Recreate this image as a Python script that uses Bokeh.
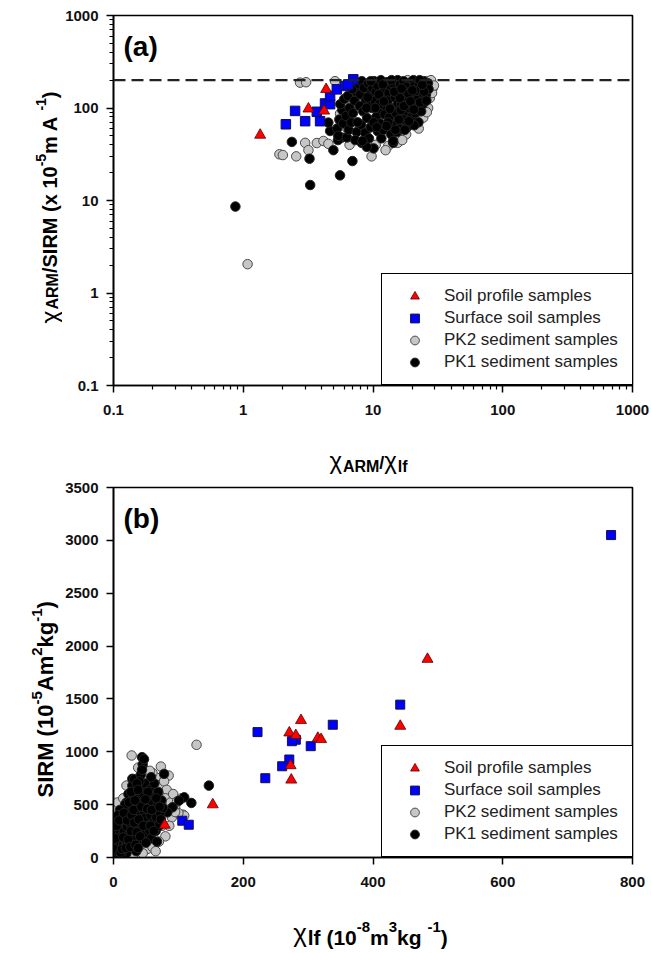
from math import pi

from bokeh.embed import file_html
from bokeh.layouts import column, row
from bokeh.models import (CustomJSTickFormatter, FixedTicker, Label, Legend,
                          LegendItem, Range1d, Span)
from bokeh.plotting import figure
from bokeh.resources import INLINE

FONT = "Liberation Sans"

# ---------------- panel (a): chiARM/chilf  vs  chiARM/SIRM (log-log) ----------------
soil_a = [(1.35, 51), (3.18, 98), (4.35, 159), (4.2, 93)]
surface_a = [(2.13, 66.7), (2.51, 93), (3.0, 72), (3.69, 91), (3.91, 72), (4.27, 112),
             (4.67, 110), (4.67, 135), (5.26, 159), (6.09, 173), (7.05, 204), (6.45, 180)]
pk2_a = [(1.08, 2.05), (2.74, 188), (3.05, 190), (1.90, 31.6), (2.02, 31), (2.56, 30),
         (3.0, 42), (3.18, 35), (3.69, 41.8), (4.15, 44), (4.53, 41), (5.57, 86.7),
         (9.75, 30), (13.1, 38.9), (24.4, 78.6), (26.6, 100), (27.4, 128), (29, 166),
         (25.9, 195), (5.1, 195), (8.18, 119), (27.8, 185), (28.5, 145), (26.0, 90),
         (22.5, 60), (18.0, 52), (12.5, 35), (15.5, 42), (6.2, 62), (7.0, 110),
         (8.6, 150), (11.0, 190), (18.5, 200), (28.0, 200), (19.5, 140), (16.8, 45),
         (10.5, 40), (6.6, 40), (29.5, 175), (16, 120), (21, 100), (12, 75), (9, 58)]
pk1_a = [(0.87, 8.6), (2.37, 43), (3.24, 28.3), (3.28, 14.7), (4.95, 35), (5.57, 18.7),
         (6.94, 26.7), (10.1, 36.6), (14.3, 42), (4.67, 56.4), (4.53, 69.5), (5.74, 47.9),
         (8.18, 42), (8.95, 38), (5.37, 45),
         (5.3, 60), (5.5, 75), (5.8, 95), (5.6, 110), (6.0, 125), (5.4, 50), (5.9, 68),
         (6.3, 48), (6.5, 58), (6.2, 82), (6.8, 70), (6.6, 100), (7.0, 88), (6.4, 135),
         (7.2, 120), (7.4, 150), (6.9, 160), (7.5, 55), (7.3, 45),
         (7.8, 180), (8.2, 195), (8.0, 140), (8.5, 165), (8.8, 120), (7.9, 105), (8.4, 92),
         (9.0, 78), (8.1, 66), (8.7, 54), (9.3, 47), (9.5, 140), (9.2, 185), (9.8, 100),
         (9.6, 62), (8.3, 44), (9.9, 165), (9.4, 110),
         (10.2, 195), (10.5, 150), (10.8, 175), (10.3, 120), (11.0, 95), (10.6, 80),
         (11.3, 68), (10.9, 56), (11.6, 47), (12.0, 58), (11.8, 130), (12.2, 160),
         (11.5, 200), (12.4, 105), (10.1, 70), (12.3, 85), (11.2, 110),
         (12.8, 190), (13.2, 145), (13.6, 175), (13.0, 120), (14.0, 100), (13.4, 80),
         (14.5, 65), (13.8, 52), (14.8, 130), (15.2, 160), (15.5, 200), (14.2, 185),
         (15.0, 88), (15.6, 112), (13.1, 70), (14.3, 44), (15.3, 55),
         (16.2, 180), (16.8, 140), (17.2, 195), (16.5, 110), (17.8, 90), (17.0, 75),
         (18.3, 62), (16.0, 60), (18.6, 125), (19.2, 160), (19.6, 190), (18.0, 170),
         (19.0, 100), (19.8, 80), (17.5, 150), (16.4, 95),
         (20.5, 200), (21.0, 175), (21.5, 140), (20.3, 118), (22.0, 105), (21.2, 88),
         (22.6, 185), (23.2, 160), (23.8, 130), (24.5, 195), (25.2, 170), (22.4, 70),
         (24.2, 110), (25.6, 140), (26.5, 185), (20.8, 65), (23.5, 92), (26.8, 160),
         (9.1, 130), (10.4, 100), (11.9, 180), (13.5, 98), (14.6, 150), (16.1, 128),
         (17.3, 105), (18.8, 143), (20.1, 155), (21.8, 122), (23.0, 115), (24.8, 150),
         (25.8, 120), (19.4, 118), (15.8, 75), (12.7, 64), (11.1, 140), (8.9, 100),
         (7.6, 70), (18.9, 72), (20.6, 96), (22.9, 200), (24.0, 178), (13.9, 200),
         (9.6, 195), (16.6, 162), (12.1, 118), (10.7, 62), (14.9, 58), (17.6, 58)]
ratio_limit = 200  # dashed reference line

# ---------------- panel (b): chilf  vs  SIRM (linear) ----------------
soil_b = [(484, 1876), (442, 1243), (289, 1297), (271, 1180), (281, 1155), (315, 1129),
          (320, 1117), (273, 870), (274, 734), (79, 307), (153, 500)]
surface_b = [(222, 1186), (281, 1114), (275, 1100), (338, 1256), (304, 1053), (271, 927),
             (260, 863), (234, 750), (442, 1446), (767, 3050), (106, 348), (116, 310)]
pk2_b = [(128, 1066), (28, 965), (73, 860), (85, 775), (107, 405), (52, 80), (0.5, 10),
         (105, 560), (98, 530), (1, 5), (4, 15), (10, 10), (20, 20), (30, 15), (45, 40),
         (60, 100), (3, 300), (2, 450), (6, 520), (15, 560), (65, 760), (70, 680),
         (78, 720), (82, 640), (80, 560), (88, 520), (92, 600), (95, 480), (84, 450),
         (90, 380), (98, 530), (109, 396), (100, 420), (75, 300), (80, 200), (70, 150),
         (65, 60), (55, 650), (60, 800), (50, 780), (38, 850), (86, 300), (95, 430),
         (20, 680), (56, 820)]
pk1_b = [(147, 680), (120, 516), (109, 569), (101, 538), (91, 475), (83, 427), (44, 949),
         (78, 791), (29, 744),
         (2, 20), (5, 60), (3, 120), (8, 90), (6, 170), (10, 140), (4, 230), (9, 260),
         (12, 200), (7, 330), (13, 310), (11, 390), (15, 120), (16, 250), (18, 170),
         (17, 360), (14, 450), (19, 420), (21, 290), (22, 100), (20, 520), (24, 220),
         (25, 380), (23, 600), (27, 480), (28, 150), (26, 320), (30, 560), (31, 260),
         (29, 680), (33, 410), (34, 200), (35, 620), (32, 740), (36, 350), (38, 500),
         (40, 280), (39, 430), (37, 560), (41, 650), (42, 780), (43, 350), (44, 160),
         (45, 520), (46, 600), (47, 440), (48, 230), (49, 700), (50, 380), (51, 300),
         (52, 560), (54, 470), (55, 260), (56, 640), (57, 400), (58, 180), (60, 520),
         (61, 330), (62, 450), (64, 590), (65, 250), (66, 380), (68, 500), (70, 300),
         (72, 420), (74, 540), (76, 470), (73, 360), (69, 620), (45, 880), (47, 930),
         (44, 830), (40, 720), (36, 700), (63, 700), (58, 760), (25, 450), (18, 500),
         (10, 450), (30, 100), (35, 60), (20, 40), (12, 30),
         (1, 80), (3, 180), (5, 300), (7, 400), (9, 350), (11, 50), (13, 80), (15, 190),
         (16, 420), (19, 90), (21, 350), (23, 170), (24, 520), (26, 100), (27, 250),
         (28, 400), (31, 450), (32, 330), (34, 120), (36, 240), (38, 90), (39, 360),
         (41, 200), (43, 480), (46, 300), (50, 140), (52, 460), (53, 620), (57, 300),
         (59, 450), (62, 250), (66, 560), (67, 150), (71, 480), (33, 540), (27, 620),
         (38, 640), (49, 550)]

legend_labels = ["Soil profile samples", "Surface soil samples",
                 "PK2 sediment samples", "PK1 sediment samples"]

log_major = [0.1, 1, 10, 100, 1000]
log_minor = [m * d for d in (0.1, 1, 10, 100) for m in range(2, 10)]
sirm_ticks = [0, 500, 1000, 1500, 2000, 2500, 3000, 3500]
chi_ticks = [0, 200, 400, 600, 800]

# Arial / Liberation Sans advance widths (1/1000 em)
W_BOLD = {' ': 278, '(': 333, ')': 333, '-': 333, '/': 278, 'A': 722, 'I': 278,
          'M': 833, 'R': 722, 'S': 667, 'f': 333, 'g': 611, 'k': 556, 'l': 278,
          'm': 889, 'x': 556, 'χ': 560}
W_REG = {' ': 278, 'χ': 560}


def text_width(s, size, bold):
    table = W_BOLD if bold else W_REG
    return sum(table.get(c, 556) for c in s) / 1000.0 * size


def rich_text(p, pieces, base, start, rotated=False, centered=False):
    """Draw a run of text pieces (text, size, bold, rise) along one baseline."""
    total = sum(text_width(t, s, b) for t, s, b, _ in pieces)
    pos = start - total / 2.0 if centered else start
    for t, s, b, rise in pieces:
        common = dict(text=t, x_units="screen", y_units="screen", text_font=FONT,
                      text_font_size=f"{s}px", text_font_style="bold" if b else "normal",
                      text_color="black", text_align="left", text_baseline="alphabetic")
        if rotated:
            lab = Label(x=base - rise, y=pos, angle=pi / 2, **common)
        else:
            lab = Label(x=pos, y=base + rise, **common)
        p.add_layout(lab)
        pos += text_width(t, s, b)


def text_panel(width, height):
    """Blank canvas used for the axis titles."""
    f = figure(width=width, height=height, x_range=Range1d(0, width),
               y_range=Range1d(0, height), output_backend="svg", toolbar_location=None,
               min_border=0, x_axis_location=None, y_axis_location=None)
    f.xgrid.visible = False
    f.ygrid.visible = False
    f.outline_line_color = None
    f.background_fill_color = "white"
    f.border_fill_color = "white"
    return f


def style(p):
    p.xgrid.visible = False
    p.ygrid.visible = False
    p.outline_line_color = "black"
    p.outline_line_width = 1.6
    p.outline_line_alpha = 1.0
    p.background_fill_color = "white"
    p.border_fill_color = "white"
    for ax in (p.xaxis[0], p.yaxis[0]):
        ax.axis_line_width = 1.6
        ax.axis_line_color = "black"
        ax.major_tick_line_width = 1.5
        ax.major_tick_out = 7
        ax.major_tick_in = 0
        ax.minor_tick_line_width = 1.2
        ax.minor_tick_out = 4
        ax.minor_tick_in = 0
        ax.major_label_text_font = FONT
        ax.major_label_text_font_style = "bold"
        ax.major_label_text_font_size = "15px"
        ax.major_label_text_color = "#111111"
    p.xaxis[0].major_label_standoff = 12
    p.yaxis[0].major_label_standoff = 8


def scatter_groups(p, soil, surface, pk2, pk1, sizes):
    def xs(d):
        return [v[0] for v in d]

    def ys(d):
        return [v[1] for v in d]

    r_pk2 = p.scatter(xs(pk2), ys(pk2), marker="circle", size=sizes[2],
                      fill_color="#c6c6c6", line_color="#4a4a4a", line_width=1)
    r_pk1 = p.scatter(xs(pk1), ys(pk1), marker="circle", size=sizes[3],
                      fill_color="black", line_color="#222222", line_width=1)
    r_surf = p.scatter(xs(surface), ys(surface), marker="square", size=sizes[1],
                       fill_color="#0000ff", line_color="#10104a", line_width=1)
    r_soil = p.scatter(xs(soil), ys(soil), marker="triangle", size=sizes[0],
                       fill_color="#ff0000", line_color="#5a0000", line_width=0.8)
    return [r_soil, r_surf, r_pk2, r_pk1]


def add_legend(p, renderers):
    legend = Legend(
        items=[LegendItem(label=l, renderers=[r]) for l, r in zip(legend_labels, renderers)],
        location=(268, 0), padding=11, spacing=0, margin=0,
        glyph_width=43, glyph_height=22, label_height=22, label_standoff=8, label_width=178,
        label_text_font=FONT, label_text_font_size="17px", label_text_color="#222222",
        border_line_color="black", border_line_width=1.5, border_line_alpha=1.0,
        background_fill_color="white", background_fill_alpha=1.0)
    p.add_layout(legend)


TITLE_W = 62  # width of the strip that carries the vertical axis titles

# ---------------- figure (a) ----------------
pa = figure(width=651 - TITLE_W, height=430, x_axis_type="log", y_axis_type="log",
            x_range=Range1d(0.1, 1000), y_range=Range1d(0.1, 1000),
            output_backend="svg", toolbar_location=None,
            min_border_left=113 - TITLE_W, min_border_right=19, min_border_top=15,
            min_border_bottom=45)
style(pa)
log_fmt = CustomJSTickFormatter(code="return String(tick)")
for ax in (pa.xaxis[0], pa.yaxis[0]):
    ax.ticker = FixedTicker(ticks=log_major, minor_ticks=log_minor)
    ax.formatter = log_fmt

pa.add_layout(Span(location=ratio_limit, dimension="width", line_color="#222222",
                   line_width=2.2, line_dash="12 6"))
rend_a = scatter_groups(pa, soil_a, surface_a, pk2_a, pk1_a, sizes=(11, 9.5, 9.5, 9.5))
add_legend(pa, rend_a)
pa.add_layout(Label(x=10, y=339, x_units="screen", y_units="screen", text="(a)",
                    text_font=FONT, text_font_size="28px", text_font_style="bold",
                    text_color="black", text_baseline="alphabetic"))

# the title strip shares the plot's frame rows, so positions are frame-relative
ya_title = text_panel(TITLE_W, 430)
rich_text(ya_title, [("χ", 25, False, 0), ("ARM", 16, True, -3), ("/SIRM (x 10", 20, True, 0),
                     ("-5", 14, True, 9), (" m A", 20, True, 0), ("-1", 14, True, 9),
                     (")", 20, True, 0)],
          base=49, start=62, rotated=True)

xa_title = text_panel(651, 46)
rich_text(xa_title, [("χ", 24, False, 0), ("ARM", 16, True, -6), ("/", 18, True, -2),
                     ("χ", 24, False, 0), ("lf", 16, True, -6)],
          base=16, start=368, centered=True)

# ---------------- figure (b) ----------------
pb = figure(width=651 - TITLE_W, height=425, x_range=Range1d(0, 800), y_range=Range1d(0, 3500),
            output_backend="svg", toolbar_location=None,
            min_border_left=113 - TITLE_W, min_border_right=19, min_border_top=11,
            min_border_bottom=44)
style(pb)
pb.xaxis[0].ticker = FixedTicker(ticks=chi_ticks)
pb.yaxis[0].ticker = FixedTicker(ticks=sirm_ticks)

rend_b = scatter_groups(pb, soil_b, surface_b, pk2_b, pk1_b, sizes=(11, 9, 9.5, 9.5))
add_legend(pb, rend_b)
pb.add_layout(Label(x=10, y=339, x_units="screen", y_units="screen", text="(b)",
                    text_font=FONT, text_font_size="28px", text_font_style="bold",
                    text_color="black", text_baseline="alphabetic"))

yb_title = text_panel(TITLE_W, 425)
rich_text(yb_title, [("SIRM (10", 22, True, 0), ("-5", 15, True, 9), ("Am", 22, True, 0),
                     ("2", 15, True, 9), ("kg", 22, True, 0), ("-1", 15, True, 9),
                     ("  )", 22, True, 0)],
          base=45, start=60, rotated=True)

xb_title = text_panel(651, 52)
rich_text(xb_title, [("χ", 26, False, 5), ("lf (10", 21, True, 0), ("-8", 15, True, 11),
                     ("m", 21, True, 0), ("3", 15, True, 11), (" kg", 21, True, 0),
                     ("-1", 15, True, 11), (")", 21, True, 0)],
          base=16, start=370, centered=True)

layout = column(row(ya_title, pa, spacing=0), xa_title,
                row(yb_title, pb, spacing=0), xb_title, spacing=0)
open("out.html", "w").write(file_html(layout, INLINE))
